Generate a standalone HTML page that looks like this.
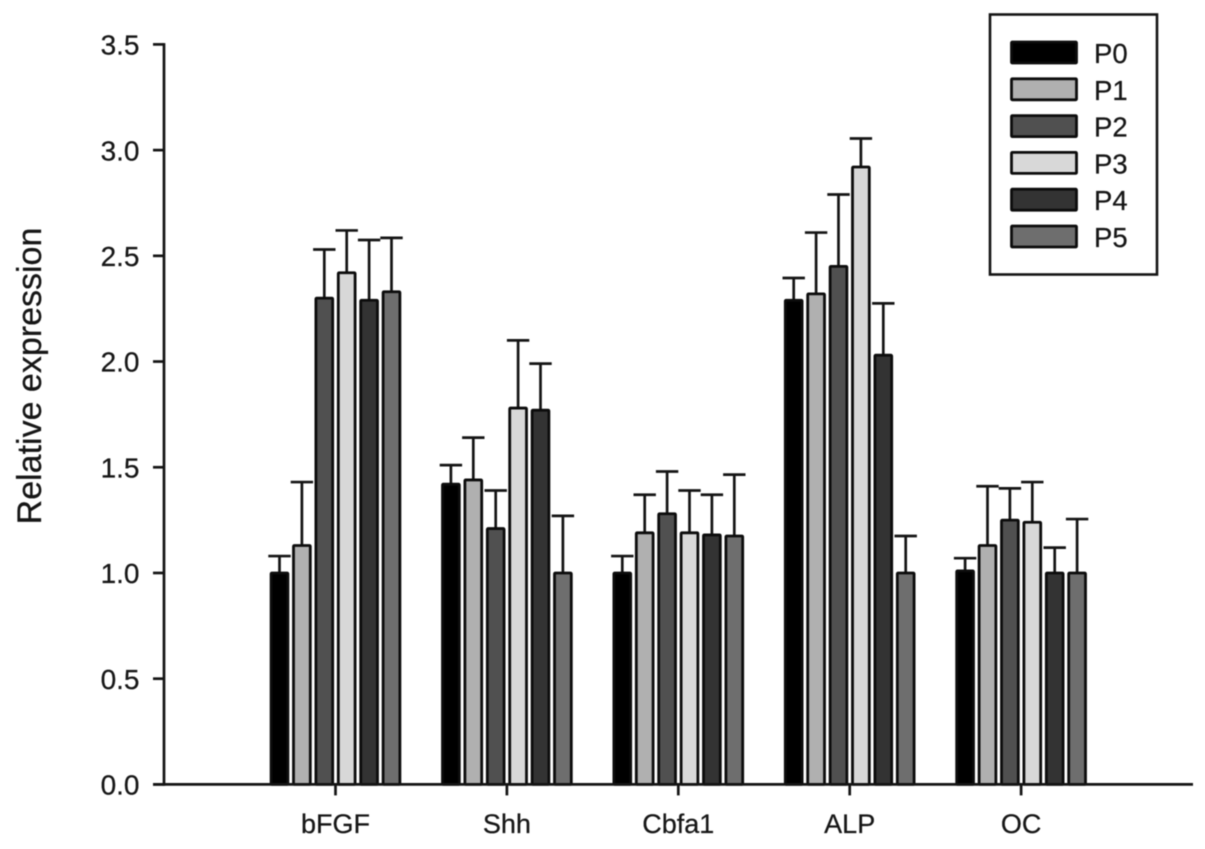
<!DOCTYPE html>
<html>
<head>
<meta charset="utf-8">
<style>
html,body{margin:0;padding:0;background:#fff;width:1205px;height:849px;overflow:hidden}
svg{display:block;filter:blur(0.4px)}
text{font-family:"Liberation Sans",sans-serif;fill:#161616;stroke:#161616;stroke-width:0.25px}
</style>
</head>
<body>
<svg id="chart" width="1205" height="849" viewBox="0 0 1205 849" xmlns="http://www.w3.org/2000/svg"></svg>
<script>
const categories = ['bFGF', 'Shh', 'Cbfa1', 'ALP', 'OC'];
const seriesNames = ['P0', 'P1', 'P2', 'P3', 'P4', 'P5'];
const seriesColors = ['#000000', '#b0b0b0', '#505050', '#d8d8d8', '#333333', '#6e6e6e'];
const valuesP0 = [1.00, 1.42, 1.00, 2.29, 1.01];
const valuesP1 = [1.13, 1.44, 1.19, 2.32, 1.13];
const valuesP2 = [2.30, 1.21, 1.28, 2.45, 1.25];
const valuesP3 = [2.42, 1.78, 1.19, 2.92, 1.24];
const valuesP4 = [2.29, 1.77, 1.18, 2.03, 1.00];
const valuesP5 = [2.33, 1.00, 1.175, 1.00, 1.00];
const errorTopP0 = [1.08, 1.51, 1.08, 2.395, 1.07];
const errorTopP1 = [1.43, 1.64, 1.37, 2.61, 1.41];
const errorTopP2 = [2.53, 1.39, 1.48, 2.79, 1.40];
const errorTopP3 = [2.62, 2.10, 1.39, 3.055, 1.43];
const errorTopP4 = [2.575, 1.99, 1.37, 2.275, 1.12];
const errorTopP5 = [2.585, 1.27, 1.465, 1.175, 1.255];
const yTickLabels = ['0.0', '0.5', '1.0', '1.5', '2.0', '2.5', '3.0', '3.5'];

const allValues = [valuesP0, valuesP1, valuesP2, valuesP3, valuesP4, valuesP5];
const allErrors = [errorTopP0, errorTopP1, errorTopP2, errorTopP3, errorTopP4, errorTopP5];
const svg = document.getElementById('chart');
const NS = 'http://www.w3.org/2000/svg';
const INK = '#141414';

function yScale(v) { return 784.4 - v * (784.4 - 44.4) / 3.5; }
function xCenter(i) { return 335.5 + i * 171.4; }
function xBar(i, s) { return xCenter(i) + (s - 2.5) * 22.4; }

function make(tag, attrs, parent) {
  const el = document.createElementNS(NS, tag);
  for (const k in attrs) el.setAttribute(k, attrs[k]);
  (parent || svg).appendChild(el);
  return el;
}
function line(x1, y1, x2, y2, w) {
  return make('line', { x1: x1, y1: y1, x2: x2, y2: y2, stroke: INK, 'stroke-width': w });
}

// error bars
allErrors.forEach(function (errs, s) {
  errs.forEach(function (e, i) {
    const cx = xBar(i, s);
    const stem = line(cx, yScale(allValues[s][i]), cx, yScale(e), 2.7);
    
    
    const cap = line(cx - 11.2, yScale(e), cx + 11.2, yScale(e), 2.7);
    
    
  });
});

// bars
allValues.forEach(function (vals, s) {
  vals.forEach(function (v, i) {
    const cx = xBar(i, s);
    const top = yScale(v);
    const bar = make('rect', {
      x: cx - 8.4, y: top, width: 16.8, height: yScale(0) - top,
      fill: seriesColors[s], stroke: '#0c0c0c', 'stroke-width': 2.8, rx: 0.8
    });
    
    
  });
});

// axes
const yAxis = line(164, yScale(3.5) - 1.3, 164, yScale(0) + 1.3, 2.7);


const xAxis = line(153, yScale(0), 1193, yScale(0), 2.8);



yTickLabels.forEach(function (label) {
  const y = yScale(parseFloat(label));
  const tick = line(153, y, 164, y, 2.7);
  
  
  const t = make('text', { x: 139.5, y: y + 10.2, 'text-anchor': 'end', 'font-size': 28 });
  t.textContent = label;
  
  
});

categories.forEach(function (name, i) {
  const cx = xCenter(i);
  const tick = line(cx, yScale(0), cx, yScale(0) + 11, 2.7);
  
  
  const t = make('text', { x: cx, y: 833, 'text-anchor': 'middle', 'font-size': 27 });
  t.textContent = name;
  
  
});

// y axis title
const yTitle = make('text', {
  x: 0, y: 0, 'text-anchor': 'middle', 'font-size': 34,
  transform: 'translate(41,376) rotate(-90)'
});
yTitle.textContent = 'Relative expression';



// legend
const legend = make('g', {});


const legendBox = make('rect', {
  x: 990, y: 14.5, width: 167, height: 260,
  fill: '#fff', stroke: INK, 'stroke-width': 2.6
}, legend);


seriesNames.forEach(function (name, s) {
  const top = 42 + s * 36.8;
  const swatch = make('rect', {
    x: 1011.5, y: top, width: 65, height: 21,
    fill: seriesColors[s], stroke: '#0c0c0c', 'stroke-width': 2.8, rx: 0.8
  }, legend);
  
  
  const t = make('text', { x: 1094, y: top + 21, 'font-size': 27.5 }, legend);
  t.textContent = name;
  
  
});
</script>
</body>
</html>
